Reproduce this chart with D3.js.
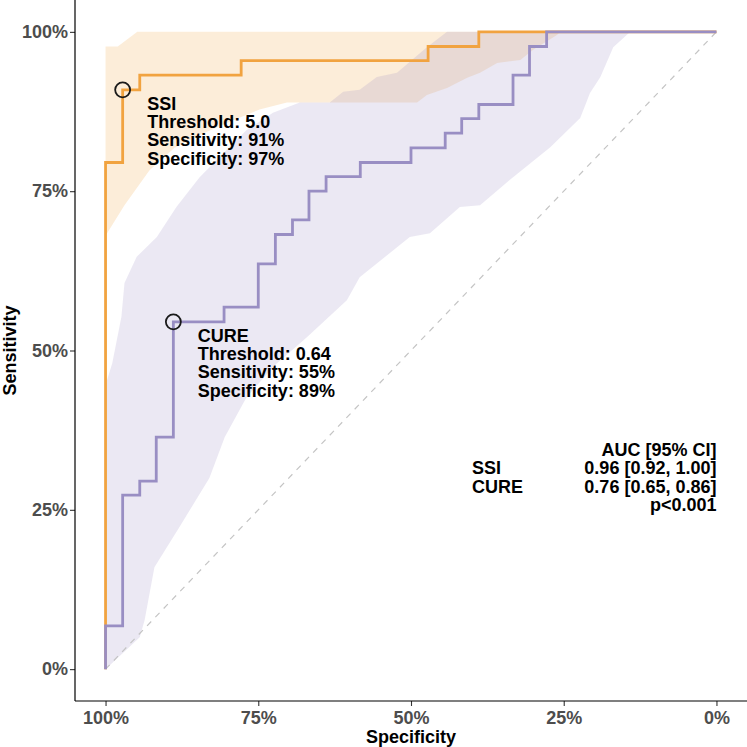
<!DOCTYPE html>
<html><head><meta charset="utf-8">
<script src="https://cdn.jsdelivr.net/npm/d3@7"></script>
<style>body{margin:0;background:#fff}svg{display:block}text{font-family:"Liberation Sans",Arial,sans-serif;font-weight:bold}</style>
</head><body><svg id="c" width="747" height="747"></svg>
<script>
// ROC curve corners (specificity, sensitivity)
const ssiSpec = [1,1,0.972,0.972,0.944,0.944,0.778,0.778,0.472,0.472,0.389,0.389,0];
const ssiSens = [0,0.795,0.795,0.909,0.909,0.932,0.932,0.955,0.955,0.977,0.977,1,1];
const cureSpec = [1,1,0.972,0.972,0.944,0.944,0.917,0.917,0.889,0.889,0.806,0.806,0.750,0.750,0.722,0.722,0.694,0.694,0.667,0.667,0.639,0.639,0.583,0.583,0.500,0.500,0.444,0.444,0.417,0.417,0.389,0.389,0.333,0.333,0.306,0.306,0.278,0.278,0];
const cureSens = [0,0.068,0.068,0.273,0.273,0.295,0.295,0.364,0.364,0.545,0.545,0.568,0.568,0.636,0.636,0.682,0.682,0.705,0.705,0.750,0.750,0.773,0.773,0.795,0.795,0.818,0.818,0.841,0.841,0.864,0.864,0.886,0.886,0.932,0.932,0.977,0.977,1,1];
// Confidence bands of sensitivity
const ssiCiUpSpec = [1,0.980,0.948,0];
const ssiCiUpSens = [0.977,0.977,1,1];
const ssiCiLoSpec = [1,0.969,0.928,0.887,0.846,0.797,0.748,0.703,0.490,0.474,0.441,0.408,0.387,0.359,0.321,0.300,0.261,0.256,0];
const ssiCiLoSens = [0.680,0.728,0.783,0.818,0.838,0.859,0.878,0.889,0.889,0.901,0.912,0.928,0.936,0.951,0.956,0.972,0.995,1,1];
const cureCiUpSpec = [1,0.989,0.974,0.969,0.949,0.916,0.884,0.846,0.818,0.769,0.726,0.682,0.633,0.611,0.584,0.556,0.523,0.474,0.441,0];
const cureCiUpSens = [0.446,0.480,0.553,0.606,0.647,0.678,0.725,0.772,0.799,0.846,0.873,0.889,0.889,0.906,0.909,0.929,0.936,0.976,1,1];
const cureCiLoSpec = [1,0.944,0.936,0.920,0.879,0.830,0.805,0.769,0.723,0.670,0.605,0.584,0.502,0.469,0.420,0.387,0.338,0.272,0.223,0.207,0.190,0.169,0.141,0];
const cureCiLoSens = [0,0.050,0.077,0.160,0.223,0.300,0.364,0.427,0.477,0.521,0.579,0.615,0.678,0.684,0.725,0.728,0.768,0.819,0.865,0.904,0.929,0.976,1,1];
// Best thresholds
const bestNames = ["SSI","CURE"];
const bestThr = ["5.0","0.64"];
const bestSpec = [0.972,0.889];
const bestSens = [0.909,0.545];
// AUC table
const aucNames = ["SSI","CURE"];
const aucText = ["0.96 [0.92, 1.00]","0.76 [0.65, 0.86]"];
const pText = "p<0.001";
const xTicks = [1,0.75,0.5,0.25,0];
const yTicks = [0,0.25,0.5,0.75,1];

const colSSI = "#f1a340", colCURE = "#998ec3";
const FS = 18;
const svg = d3.select("#c");
const L=75,R=747,T=0,B=701;
const x = d3.scaleLinear().domain([1.05,-0.05]).range([L,R]);
const y = d3.scaleLinear().domain([-0.05,1.05]).range([B,T]);
const zip=(a,b)=>a.map((v,i)=>[v,b[i]]);
const line = d3.line().x(d=>x(d[0])).y(d=>y(d[1]));
function band(us,uy,ls,ly){ return zip(us,uy).concat(zip(ls,ly).reverse()); }

svg.append("path").attr("d",line(band(ssiCiUpSpec,ssiCiUpSens,ssiCiLoSpec,ssiCiLoSens))+"Z")
  .attr("fill",colSSI).attr("fill-opacity",0.2);
svg.append("path").attr("d",line(band(cureCiUpSpec,cureCiUpSens,cureCiLoSpec,cureCiLoSens))+"Z")
  .attr("fill",colCURE).attr("fill-opacity",0.2);

svg.append("path").attr("d",line([[1,0],[0,1]])).attr("stroke","#c4c4c4").attr("stroke-width",1.2)
  .attr("stroke-dasharray","6,6").attr("fill","none");

svg.append("path").attr("d",line(zip(ssiSpec,ssiSens))).attr("stroke",colSSI).attr("stroke-width",2.8).attr("fill","none");
svg.append("path").attr("d",line(zip(cureSpec,cureSens))).attr("stroke",colCURE).attr("stroke-width",2.8).attr("fill","none");

bestNames.forEach((n,i)=>{
  const cx=x(bestSpec[i]), cy=y(bestSens[i]);
  svg.append("circle").attr("cx",cx).attr("cy",cy).attr("r",7.5).attr("fill","none").attr("stroke","#1a1a1a").attr("stroke-width",1.8);
  const t=svg.append("text").attr("x",cx+24.5).attr("y",cy+20).attr("font-size",FS).attr("fill","#000");
  [n,"Threshold: "+bestThr[i],"Sensitivity: "+Math.round(bestSens[i]*100)+"%","Specificity: "+Math.round(bestSpec[i]*100)+"%"]
    .forEach((s,k)=>t.append("tspan").attr("x",cx+24.5).attr("dy",k?18.3:0).text(s));
});

// AUC block
const ax=x(0), ay=y(0.335);
svg.append("text").attr("x",ax).attr("y",ay).attr("text-anchor","end").attr("font-size",FS).text("AUC [95% CI]");
aucNames.forEach((n,i)=>{
  svg.append("text").attr("x",472).attr("y",ay+18.5*(i+1)).attr("font-size",FS).text(n);
  svg.append("text").attr("x",ax).attr("y",ay+18.5*(i+1)).attr("text-anchor","end").attr("font-size",FS).text(aucText[i]);
});
svg.append("text").attr("x",ax).attr("y",ay+18.5*3).attr("text-anchor","end").attr("font-size",FS).text(pText);

// axes
const fmt=d=>Math.round(d*100)+"%";
const gx=svg.append("g").attr("transform",`translate(0,${B})`).call(d3.axisBottom(x).tickValues(xTicks).tickFormat(fmt).tickSize(5).tickPadding(5.5));
const gy=svg.append("g").attr("transform",`translate(${L},0)`).call(d3.axisLeft(y).tickValues(yTicks).tickFormat(fmt).tickSize(5).tickPadding(2));
[gx,gy].forEach(g=>{
  g.select(".domain").remove();
  g.selectAll(".tick line").attr("stroke","#333").attr("stroke-width",1.1);
  g.selectAll(".tick text").attr("fill","#4d4d4d").attr("font-size",FS).attr("font-family",'"Liberation Sans",Arial,sans-serif').attr("font-weight","bold");
});
svg.append("line").attr("x1",L).attr("x2",R).attr("y1",B).attr("y2",B).attr("stroke","#000").attr("stroke-width",1.2);
svg.append("line").attr("x1",L).attr("x2",L).attr("y1",T).attr("y2",B).attr("stroke","#000").attr("stroke-width",1.2);

svg.append("text").attr("x",(L+R)/2).attr("y",743).attr("text-anchor","middle").attr("font-size",FS).text("Specificity");
svg.append("text").attr("transform",`translate(16,${(T+B)/2}) rotate(-90)`).attr("text-anchor","middle").attr("font-size",FS).text("Sensitivity");
</script></body></html>
